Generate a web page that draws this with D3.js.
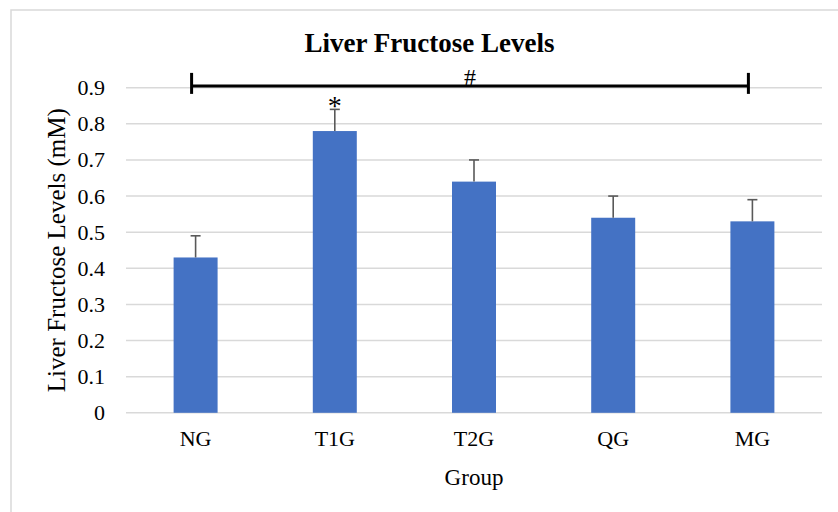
<!DOCTYPE html>
<html>
<head>
<meta charset="utf-8">
<script src="https://cdn.jsdelivr.net/npm/d3@7"></script>
<style>
  html, body { margin: 0; padding: 0; background: #fff; }
  svg { display: block; }
  text { font-family: "Liberation Serif", "Times New Roman", serif; fill: #000; }
</style>
</head>
<body>
<svg id="chart" width="838" height="512"></svg>
<script>
const categories = ["NG", "T1G", "T2G", "QG", "MG"];
const values = [0.43, 0.78, 0.64, 0.54, 0.53];
const errors = [0.06, 0.06, 0.06, 0.06, 0.06];
const yTicks = [0, 0.1, 0.2, 0.3, 0.4, 0.5, 0.6, 0.7, 0.8, 0.9];
const starLabels = ["", "*", "", "", ""];
const bracketFrom = "NG";
const bracketTo = "MG";
const bracketLevel = 0.905;
const bracketLabel = "#";
const titleText = "Liver Fructose Levels";
const yTitle = "Liver Fructose Levels (mM)";
const xTitle = "Group";

const svg = d3.select("#chart");
const W = 838, H = 512;
const margin = { left: 126, right: 16, top: 87.7, bottom: 99.2 };
const plotW = W - margin.left - margin.right;
const plotH = H - margin.top - margin.bottom;

// outer chart border
svg.append("rect")
  .attr("x", 11).attr("y", 10)
  .attr("width", 860).attr("height", 540)
  .attr("fill", "#fff")
  .attr("stroke", "#d9d9d9").attr("stroke-width", 1.5);

const g = svg.append("g").attr("transform", `translate(${margin.left},${margin.top})`);

const x = d3.scaleBand().domain(categories).range([0, plotW])
  .paddingInner(0.684).paddingOuter(0.342);
const y = d3.scaleLinear().domain([0, 0.9]).range([plotH, 0]);

// gridlines
g.append("g").selectAll("line").data(yTicks).join("line")
  .attr("x1", 0).attr("x2", plotW)
  .attr("y1", d => y(d)).attr("y2", d => y(d))
  .attr("stroke", "#d9d9d9").attr("stroke-width", 1.5);

// y axis labels
const yAxis = d3.axisLeft(y).tickValues(yTicks).tickSize(0).tickPadding(21)
  .tickFormat(d => d3.format("")(+d.toFixed(1)));
const ya = g.append("g").call(yAxis);
ya.select(".domain").remove();
ya.selectAll("text")
  .attr("font-family", "Liberation Serif, Times New Roman, serif")
  .attr("font-size", 22).attr("fill", "#000");

// x axis labels
const xAxis = d3.axisBottom(x).tickSize(0).tickPadding(18);
const xa = g.append("g").attr("transform", `translate(0,${plotH})`).call(xAxis);
xa.select(".domain").remove();
xa.selectAll("text")
  .attr("font-family", "Liberation Serif, Times New Roman, serif")
  .attr("font-size", 22).attr("fill", "#000");

// bars
g.append("g").selectAll("rect").data(categories).join("rect")
  .attr("x", d => x(d))
  .attr("y", (d, i) => y(values[i]))
  .attr("width", x.bandwidth())
  .attr("height", (d, i) => plotH - y(values[i]))
  .attr("fill", "#4472c4");

// error bars (upper)
const eb = g.append("g").attr("stroke", "#595959").attr("stroke-width", 1.6);
categories.forEach((c, i) => {
  const cx = x(c) + x.bandwidth() / 2;
  const top = y(values[i] + errors[i]);
  eb.append("line").attr("x1", cx).attr("x2", cx)
    .attr("y1", y(values[i])).attr("y2", top);
  eb.append("line").attr("x1", cx - 5).attr("x2", cx + 5)
    .attr("y1", top).attr("y2", top);
  if (starLabels[i]) {
    g.append("text").attr("x", cx).attr("y", top + 6)
      .attr("text-anchor", "middle").attr("font-size", 28)
      .text(starLabels[i]);
  }
});

// significance bracket
const bx1 = x(bracketFrom) + x.bandwidth() / 2 - 4;
const bx2 = x(bracketTo) + x.bandwidth() / 2 - 4;
const by = y(bracketLevel);
const br = g.append("g").attr("stroke", "#000").attr("stroke-width", 3);
br.append("line").attr("x1", bx1).attr("x2", bx2).attr("y1", by).attr("y2", by);
br.append("line").attr("x1", bx1).attr("x2", bx1).attr("y1", by - 13).attr("y2", by + 8);
br.append("line").attr("x1", bx2).attr("x2", bx2).attr("y1", by - 13).attr("y2", by + 8);
g.append("text").attr("x", (bx1 + bx2) / 2).attr("y", by - 1)
  .attr("text-anchor", "middle").attr("font-size", 24).text(bracketLabel);

// title
svg.append("text").attr("x", 429.5).attr("y", 52)
  .attr("text-anchor", "middle").attr("font-size", 27).attr("font-weight", "bold")
  .text(titleText);

// y title
svg.append("text")
  .attr("transform", `translate(65,${margin.top + plotH / 2}) rotate(-90)`)
  .attr("text-anchor", "middle").attr("font-size", 25)
  .text(yTitle);

// x title
svg.append("text").attr("x", margin.left + plotW / 2).attr("y", 485)
  .attr("text-anchor", "middle").attr("font-size", 23)
  .text(xTitle);
</script>
</body>
</html>
